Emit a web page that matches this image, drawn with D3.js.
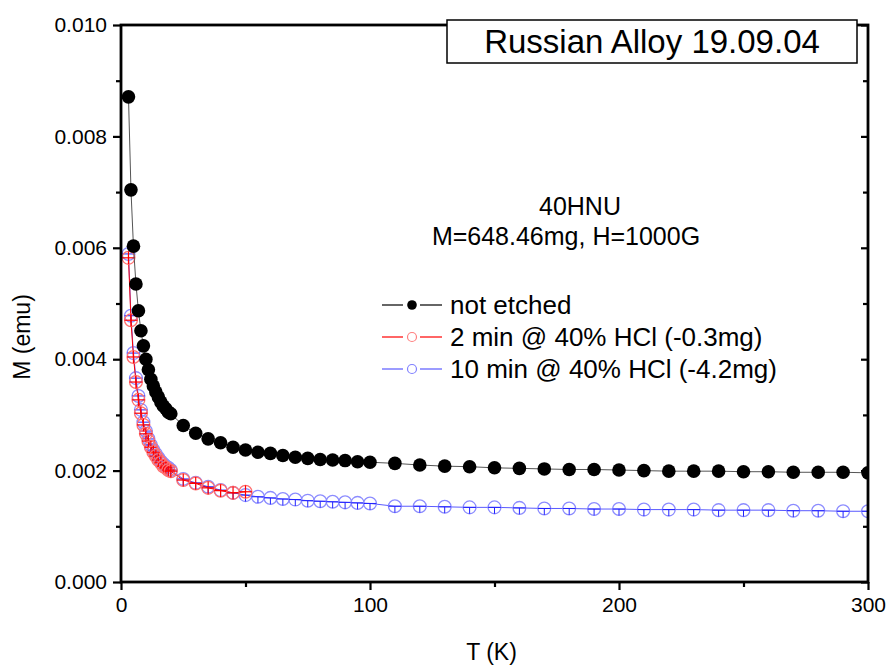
<!DOCTYPE html>
<html>
<head>
<meta charset="utf-8">
<script src="https://cdn.jsdelivr.net/npm/d3@7"></script>
<style>
  html, body { margin: 0; padding: 0; background: #fff; }
  svg { display: block; font-family: "Liberation Sans", Arial, sans-serif; }
</style>
</head>
<body>
<div id="chart"></div>
<script>
// ---------- data ----------
const tempDense = [3,4,5,6,7,8,9,10,11,12,13,14,15,16,17,18,19,20];
const tempMid = [25,30,35,40,45,50,55,60,65,70,75,80,85,90,95,100];
const tempHigh = [110,120,130,140,150,160,170,180,190,200,210,220,230,240,250,260,270,280,290,300];

const tNotEtched = tempDense.concat(tempMid, tempHigh);
const mNotEtched = [
  0.00871,0.00704,0.00603,0.00535,0.00487,0.00451,0.00424,0.00400,0.00381,0.00364,
  0.00352,0.00341,0.00332,0.00323,0.00316,0.00311,0.00305,0.00302,
  0.00281,0.00267,0.00257,0.00250,0.00242,0.00237,0.00233,0.00231,0.00227,0.00224,
  0.00222,0.00220,0.00219,0.00218,0.00216,0.00215,
  0.00213,0.00210,0.00208,0.00207,0.00205,0.00204,0.00203,0.00202,0.00202,0.00201,
  0.00200,0.00199,0.00199,0.00199,0.00198,0.00198,0.00197,0.00197,0.00197,0.00196
];

const tEtch2 = tempDense.concat([25,30,35,40,45,50]);
const mEtch2 = [
  0.00582,0.00470,0.00404,0.00359,0.00327,0.00303,0.00282,0.00266,0.00253,0.00242,
  0.00233,0.00226,0.00219,0.00214,0.00208,0.00205,0.00201,0.00199,
  0.00183,0.00177,0.00169,0.00164,0.00160,0.00162
];

const tEtch10 = tempDense.concat(tempMid, tempHigh);
const mEtch10 = [
  0.00589,0.00478,0.00411,0.00366,0.00334,0.00309,0.00287,0.00271,0.00257,0.00246,
  0.00237,0.00230,0.00223,0.00217,0.00212,0.00208,0.00205,0.00201,
  0.00185,0.00178,0.00171,0.00165,0.00160,0.00156,0.00153,0.00151,0.00149,0.00148,
  0.00146,0.00145,0.00144,0.00143,0.00142,0.00141,
  0.00136,0.00136,0.00135,0.00134,0.00134,0.00133,0.00132,0.00132,0.00131,0.00131,
  0.00130,0.00130,0.00130,0.00129,0.00129,0.00129,0.00128,0.00128,0.00127,0.00127
];

const xMajorTicks = [0,100,200,300];
const xMinorTicks = [50,150,250];
const yMajorTicks = [0,0.002,0.004,0.006,0.008,0.010];
const yMinorTicks = [0.001,0.003,0.005,0.007,0.009];

const seriesNames = ["not etched","2 min @ 40% HCl (-0.3mg)","10 min @ 40% HCl (-4.2mg)"];
const titleText = "Russian Alloy 19.09.04";
const sampleText = ["40HNU","M=648.46mg, H=1000G"];
const xLabel = "T (K)";
const yLabel = "M (emu)";

// ---------- layout ----------
const W = 888, H = 666;
const L = 121, R = 868, T = 25, B = 582;

const svg = d3.select("#chart").append("svg").attr("width", W).attr("height", H);

const x = d3.scaleLinear().domain([0,300]).range([L,R]);
const y = d3.scaleLinear().domain([0,0.010]).range([B,T]);

svg.append("defs").append("clipPath").attr("id","plotclip")
  .append("rect").attr("x",L).attr("y",T).attr("width",R-L).attr("height",B-T);

const plot = svg.append("g").attr("clip-path","url(#plotclip)");

function zip(ts, ms){ return ts.map((t,i)=>({t:t, m:ms[i]})); }
const line = d3.line().x(d=>x(d.t)).y(d=>y(d.m));

const dBlue = zip(tEtch10, mEtch10);
const dRed = zip(tEtch2, mEtch2);
const dBlack = zip(tNotEtched, mNotEtched);

const rOpen = 6.4;

// blue series
plot.append("path").datum(dBlue).attr("d",line)
  .attr("fill","none").attr("stroke","#5a5aff").attr("stroke-width",1);
const gb = plot.append("g").selectAll("g").data(dBlue).join("g")
  .attr("transform",d=>`translate(${x(d.t)},${y(d.m)})`);
gb.append("circle").attr("r",rOpen).attr("fill","none").attr("stroke","#8c8cff").attr("stroke-width",1.3);
gb.append("line").attr("x1",-rOpen).attr("x2",rOpen).attr("y1",0).attr("y2",0).attr("stroke","#2020ff").attr("stroke-width",1);
gb.append("line").attr("x1",0).attr("x2",0).attr("y1",0).attr("y2",rOpen).attr("stroke","#2020ff").attr("stroke-width",1);

// red series
plot.append("path").datum(dRed).attr("d",line)
  .attr("fill","none").attr("stroke","#ff0000").attr("stroke-width",1);
const gr = plot.append("g").selectAll("g").data(dRed).join("g")
  .attr("transform",d=>`translate(${x(d.t)},${y(d.m)})`);
gr.append("circle").attr("r",rOpen).attr("fill","none").attr("stroke","#ff7070").attr("stroke-width",1.3);
gr.append("line").attr("x1",-rOpen).attr("x2",rOpen).attr("y1",0).attr("y2",0).attr("stroke","#ff0000").attr("stroke-width",1.2);
gr.append("line").attr("x1",0).attr("x2",0).attr("y1",-rOpen).attr("y2",rOpen).attr("stroke","#ff0000").attr("stroke-width",1.2);

// black series
plot.append("path").datum(dBlack).attr("d",line)
  .attr("fill","none").attr("stroke","#555").attr("stroke-width",1);
plot.append("g").selectAll("circle").data(dBlack).join("circle")
  .attr("cx",d=>x(d.t)).attr("cy",d=>y(d.m)).attr("r",6.8).attr("fill","#000");

// ---------- axes ----------
const axisFont = 21;
function styleAxis(g){
  g.select(".domain").remove();
  g.selectAll(".tick line").attr("stroke","#000").attr("stroke-width",2.2);
  g.selectAll(".tick text").attr("font-size",axisFont).attr("fill","#000")
    .attr("font-family",'"Liberation Sans", Arial, sans-serif');
}
const gy = svg.append("g").attr("transform",`translate(${L},0)`)
  .call(d3.axisLeft(y).tickValues(yMajorTicks).tickSize(8).tickPadding(6).tickFormat(d3.format(".3f")));
styleAxis(gy);
const gyMin = svg.append("g").attr("transform",`translate(${L},0)`)
  .call(d3.axisLeft(y).tickValues(yMinorTicks).tickSize(5).tickFormat(""));
styleAxis(gyMin);

const gx = svg.append("g").attr("transform",`translate(0,${B})`)
  .call(d3.axisBottom(x).tickValues(xMajorTicks).tickSize(8).tickPadding(7).tickFormat(d3.format("d")));
styleAxis(gx);
const gxMin = svg.append("g").attr("transform",`translate(0,${B})`)
  .call(d3.axisBottom(x).tickValues(xMinorTicks).tickSize(5).tickFormat(""));
styleAxis(gxMin);

// right axis inward ticks
const gr2 = svg.append("g").attr("transform",`translate(${R},0)`)
  .call(d3.axisRight(y).tickValues(yMajorTicks).tickSize(-7).tickFormat(""));
styleAxis(gr2);
const gr3 = svg.append("g").attr("transform",`translate(${R},0)`)
  .call(d3.axisRight(y).tickValues(yMinorTicks).tickSize(-5).tickFormat(""));
styleAxis(gr3);

// frame
svg.append("rect").attr("x",L).attr("y",T).attr("width",R-L).attr("height",B-T)
  .attr("fill","none").attr("stroke","#000").attr("stroke-width",2.8);

// axis titles
svg.append("text").attr("x",(L+R)/2 - 3).attr("y",660).attr("text-anchor","middle")
  .attr("font-size",23).text(xLabel);
svg.append("text").attr("transform","translate(30,337) rotate(-90)").attr("text-anchor","middle")
  .attr("font-size",23).text(yLabel);

// title box
svg.append("rect").attr("x",447).attr("y",20).attr("width",410).attr("height",43)
  .attr("fill","#fff").attr("stroke","#000").attr("stroke-width",1.5);
svg.append("text").attr("x",652).attr("y",53).attr("text-anchor","middle")
  .attr("font-size",33).text(titleText);

// sample annotation
svg.append("text").attr("x",580).attr("y",215).attr("text-anchor","middle")
  .attr("font-size",25).text(sampleText[0]);
svg.append("text").attr("x",566).attr("y",245).attr("text-anchor","middle")
  .attr("font-size",25).text(sampleText[1]);

// legend
const legendRows = [
  {name: seriesNames[0], line:"#000", type:"filled"},
  {name: seriesNames[1], line:"#ff0000", type:"red"},
  {name: seriesNames[2], line:"#5a5aff", type:"blue"}
];
const legY = [305, 337, 369];
const lg = svg.append("g");
legendRows.forEach((r,i)=>{
  const yy = legY[i];
  lg.append("line").attr("x1",382).attr("x2",403).attr("y1",yy).attr("y2",yy).attr("stroke",r.line).attr("stroke-width",1.2);
  lg.append("line").attr("x1",420).attr("x2",442).attr("y1",yy).attr("y2",yy).attr("stroke",r.line).attr("stroke-width",1.2);
  if (r.type === "filled") {
    lg.append("circle").attr("cx",412).attr("cy",yy).attr("r",4.8).attr("fill","#000");
  } else {
    lg.append("circle").attr("cx",412).attr("cy",yy).attr("r",4.5).attr("fill","none")
      .attr("stroke", r.type==="red" ? "#ff8080" : "#8080ff").attr("stroke-width",1.2);
  }
  lg.append("text").attr("x",450).attr("y",yy+9).attr("font-size",26).text(r.name);
});
</script>
</body>
</html>
